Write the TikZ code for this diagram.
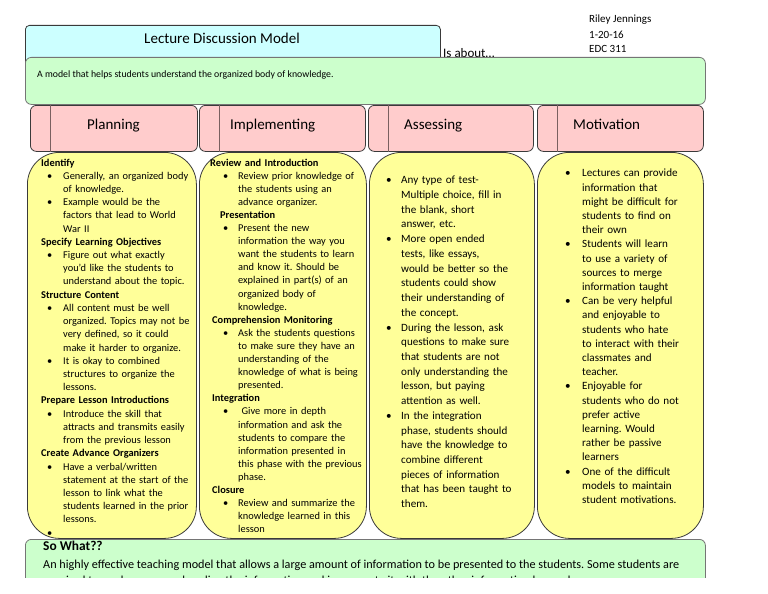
\documentclass[tikz,border=0pt]{standalone}
\usepackage{fontspec}
\setmainfont{Carlito}
\frenchspacing
\definecolor{titlecyan}{HTML}{CCFFFF}
\definecolor{aboutgreen}{HTML}{CCFFCC}
\definecolor{tabpink}{HTML}{FFCCCC}
\definecolor{bodyyellow}{HTML}{FFFF99}
\definecolor{boxline}{HTML}{3A3A3A}
\definecolor{tabline}{HTML}{7A6060}
\newlength{\bulind}
\newlength{\txtind}
\newcommand{\bl}{\hspace*{\bulind}\makebox[\dimexpr\txtind-\bulind\relax][l]{\textbullet}}
\newcommand{\cl}{\hspace*{\txtind}}
\tikzstyle{titlebox}=[draw=boxline,fill=titlecyan,rounded corners=4pt,anchor=north west,inner sep=0pt,line width=0.8pt]
\tikzstyle{greenbox}=[draw=boxline!70,fill=aboutgreen,rounded corners=6pt,anchor=north west,inner sep=0pt,line width=0.8pt]
\tikzstyle{tabbox}=[draw=boxline,fill=tabpink,rounded corners=6pt,anchor=north west,inner sep=0pt,line width=0.8pt,minimum height=46pt]
\tikzstyle{colbox}=[draw=boxline,fill=bodyyellow,rounded corners=32pt,anchor=north west,inner sep=0pt,line width=0.8pt,minimum height=386pt]
\tikzstyle{tablabel}=[anchor=base west,inner sep=0pt,font=\fontsize{15}{18}\selectfont]
\tikzstyle{plain}=[anchor=west,inner sep=0pt,font=\fontsize{11}{13}\selectfont]
\tikzstyle{coltext}=[anchor=north west,inner sep=0pt,text width=170pt,align=left]
\tikzstyle{colA}=[coltext,font=\fontsize{10.4}{13.22}\selectfont,execute at begin node={\setlength{\bulind}{6pt}\setlength{\txtind}{22pt}}]
\tikzstyle{colB}=[coltext,font=\fontsize{10.4}{13.1}\selectfont,execute at begin node={\setlength{\bulind}{13pt}\setlength{\txtind}{28pt}}]
\tikzstyle{colC}=[coltext,font=\fontsize{11.1}{14.72}\selectfont,execute at begin node={\setlength{\bulind}{0pt}\setlength{\txtind}{15pt}}]
\tikzstyle{colD}=[coltext,font=\fontsize{11.1}{14.2}\selectfont,execute at begin node={\setlength{\bulind}{0pt}\setlength{\txtind}{17pt}}]

\begin{document}
\begin{tikzpicture}[x=1pt,y=-1pt]
\useasboundingbox[fill=white] (0,0) rectangle (768,594);
\begin{scope}
\clip (0,0) rectangle (768,577);
% title and header
\node[titlebox,minimum width=415pt,minimum height=50pt] (title) at (25,25) {};
\node[font=\fontsize{15}{18}\selectfont] (titletext) at (222,38) {Lecture Discussion Model};
\node[plain,font=\fontsize{13}{15}\selectfont] (about) at (443,53) {Is about\dots};
\node[plain] (name) at (589,20) {Riley Jennings};
\node[plain] (date) at (589,35) {1-20-16};
\node[plain] (course) at (589,49) {EDC 311};
\node[greenbox,minimum width=680pt,minimum height=47pt] (model) at (25,57) {};
\node[plain,font=\fontsize{9.8}{12}\selectfont] (modeltext) at (37,75) {A model that helps students understand the organized body of knowledge.};
% tabs
\node[tabbox,minimum width=167pt] (plan) at (30,105) {};
\node[tabbox,minimum width=166pt] (impl) at (199,105) {};
\node[tabbox,minimum width=165pt] (assess) at (368,105) {};
\node[tabbox,minimum width=166pt] (motiv) at (537,105) {};
\foreach \t in {plan,impl,assess,motiv}
  \draw[tabline,line width=0.8pt] ([xshift=20pt]\t.north west) -- ([xshift=20pt]\t.south west);
\node[tablabel] (plantext) at (87,129.5) {Planning};
\node[tablabel] (impltext) at (230,129.5) {Implementing};
\node[tablabel] (assesstext) at (404,129.5) {Assessing};
\node[tablabel] (motivtext) at (573,129.5) {Motivation};
% columns
\node[colbox,minimum width=169pt] (plancol) at (27,152) {};
\node[colbox,minimum width=167pt] (implcol) at (199,152) {};
\node[colbox,minimum width=165pt] (assesscol) at (369,152) {};
\node[colbox,minimum width=166pt] (motivcol) at (537,152) {};
\node[colA] (planlist) at (41,158.5) {\textbf{Identify}\\
\bl Generally, an organized body\\
\cl of knowledge.\\
\bl Example would be the\\
\cl factors that lead to World\\
\cl War II\\
\textbf{Specify Learning Objectives}\\
\bl Figure out what exactly\\
\cl you’d like the students to\\
\cl understand about the topic.\\
\textbf{Structure Content}\\
\bl All content must be well\\
\cl organized. Topics may not be\\
\cl very defined, so it could\\
\cl make it harder to organize.\\
\bl It is okay to combined\\
\cl structures to organize the\\
\cl lessons.\\
\textbf{Prepare Lesson Introductions}\\
\bl Introduce the skill that\\
\cl attracts and transmits easily\\
\cl from the previous lesson\\
\textbf{Create Advance Organizers}\\
\bl Have a verbal/written\\
\cl statement at the start of the\\
\cl lesson to link what the\\
\cl students learned in the prior\\
\cl lessons.\\
\bl};
\node[colB] (impllist) at (210,158.5) {\textbf{Review and Introduction}\\
\bl Review prior knowledge of\\
\cl the students using an\\
\cl advance organizer.\\
\hspace*{10pt}\textbf{Presentation}\\
\bl Present the new\\
\cl information the way you\\
\cl want the students to learn\\
\cl and know it. Should be\\
\cl explained in part(s) of an\\
\cl organized body of\\
\cl knowledge.\\
\hspace*{2pt}\textbf{Comprehension Monitoring}\\
\bl Ask the students questions\\
\cl to make sure they have an\\
\cl understanding of the\\
\cl knowledge of what is being\\
\cl presented.\\
\hspace*{2pt}\textbf{Integration}\\
\bl\ Give more in depth\\
\cl information and ask the\\
\cl students to compare the\\
\cl information presented in\\
\cl this phase with the previous\\
\cl phase.\\
\hspace*{2pt}\textbf{Closure}\\
\bl Review and summarize the\\
\cl knowledge learned in this\\
\cl lesson};
\node[colC] (assesslist) at (386,176) {\bl Any type of test-\\
\cl Multiple choice, fill in\\
\cl the blank, short\\
\cl answer, etc.\\
\bl More open ended\\
\cl tests, like essays,\\
\cl would be better so the\\
\cl students could show\\
\cl their understanding of\\
\cl the concept.\\
\bl During the lesson, ask\\
\cl questions to make sure\\
\cl that students are not\\
\cl only understanding the\\
\cl lesson, but paying\\
\cl attention as well.\\
\bl In the integration\\
\cl phase, students should\\
\cl have the knowledge to\\
\cl combine different\\
\cl pieces of information\\
\cl that has been taught to\\
\cl them.};
\node[colD] (motivlist) at (565,169) {\bl Lectures can provide\\
\cl information that\\
\cl might be difficult for\\
\cl students to find on\\
\cl their own\\
\bl Students will learn\\
\cl to use a variety of\\
\cl sources to merge\\
\cl information taught\\
\bl Can be very helpful\\
\cl and enjoyable to\\
\cl students who hate\\
\cl to interact with their\\
\cl classmates and\\
\cl teacher.\\
\bl Enjoyable for\\
\cl students who do not\\
\cl prefer active\\
\cl learning. Would\\
\cl rather be passive\\
\cl learners\\
\bl One of the difficult\\
\cl models to maintain\\
\cl student motivations.};
% so what
\node[greenbox,minimum width=680pt,minimum height=70pt] (sowhat) at (25,539) {};
\node[plain,font=\bfseries\fontsize{13.4}{16}\selectfont] (sowhattitle) at (43,546) {So What??};
\node[plain,font=\fontsize{12.2}{14}\selectfont] (sowhatline) at (43,565) {An highly effective teaching model that allows a large amount of information to be presented to the students. Some students are};
\node[plain,font=\fontsize{12.2}{14}\selectfont] (sowhatnext) at (43,581) {required to work on comprehending the information and incorporate it with the other information learned.};
\end{scope}
\end{tikzpicture}
\end{document}
